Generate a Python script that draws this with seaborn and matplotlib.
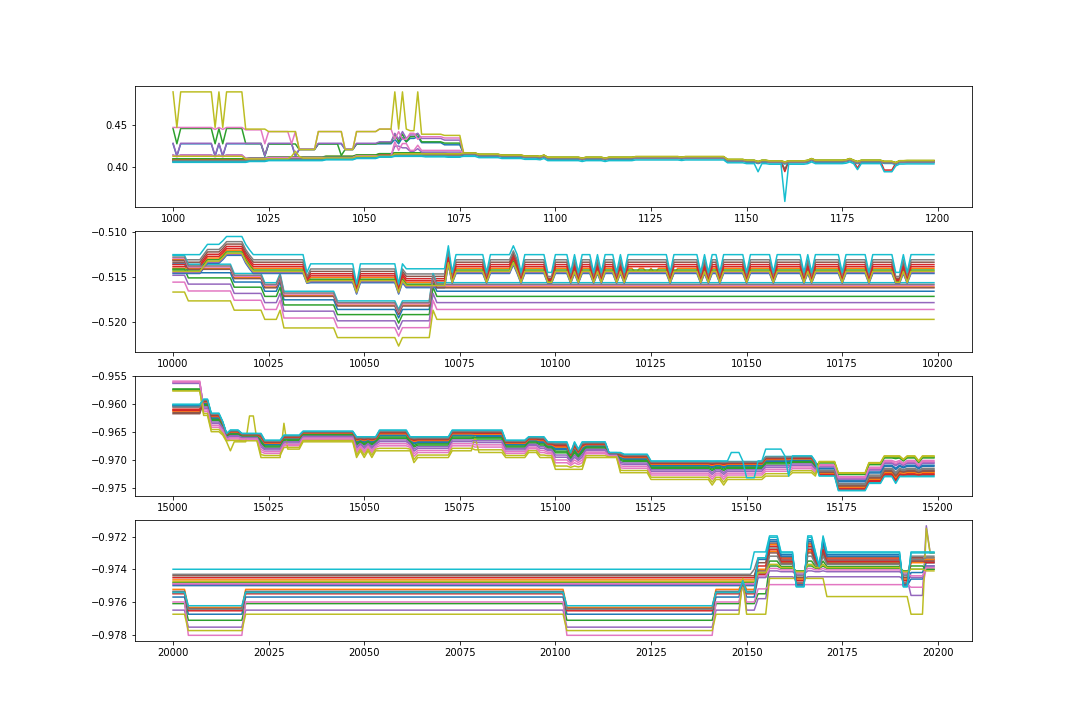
import numpy as np
import pandas as pd
import matplotlib
matplotlib.use('Agg')
import matplotlib.pyplot as plt
from matplotlib.ticker import MultipleLocator
import seaborn as sns

# 4 windows of 200 steps each, 20 series per window (tab10 colours used twice)
N_STEPS = 200
X_START = [1000, 10000, 15000, 20000]
Y_TICK_STEP = [0.05, 0.005, 0.005, 0.002]

# ---------------- window 1 (1000-1199) ----------------
# lines with their own early path: line id -> (start step, value) knots
P1_SPECIAL = {
    8: [(1000, 0.4884), (1001, 0.4468), (1002, 0.4884), (1011, 0.4468), (1012, 0.4884), (1013, 0.4468),
        (1014, 0.4884), (1019, 0.4449), (1025, 0.4420), (1033, 0.4210), (1038, 0.4420), (1045, 0.4210),
        (1048, 0.4420), (1054, 0.4449), (1058, 0.4884), (1059, 0.4449), (1060, 0.4884), (1061, 0.4449),
        (1062, 0.4430), (1064, 0.4884), (1065, 0.4389), (1071, 0.4375)],
    6: [(1000, 0.4468), (1011, 0.4445), (1012, 0.4468), (1013, 0.4445), (1014, 0.4468), (1019, 0.4440),
        (1024, 0.4277), (1025, 0.4420), (1031, 0.4277), (1032, 0.4420), (1033, 0.4210), (1038, 0.4420),
        (1045, 0.4210), (1048, 0.4420), (1054, 0.4449), (1058, 0.4330), (1059, 0.4420), (1060, 0.4330),
        (1062, 0.4400), (1064, 0.4330), (1065, 0.4360), (1071, 0.4345)],
    2: [(1000, 0.4456), (1001, 0.4277), (1002, 0.4456), (1011, 0.4277), (1012, 0.4456), (1013, 0.4277),
        (1014, 0.4456), (1019, 0.4280), (1024, 0.4140), (1025, 0.4275), (1033, 0.4210), (1038, 0.4275),
        (1044, 0.4140), (1045, 0.4210), (1048, 0.4275), (1054, 0.4290), (1058, 0.4390), (1059, 0.4300),
        (1060, 0.4390), (1061, 0.4300), (1062, 0.4360), (1064, 0.4390), (1065, 0.4300), (1071, 0.4285)],
    0: [(1000, 0.4277), (1001, 0.4131), (1002, 0.4277), (1011, 0.4131), (1012, 0.4277), (1013, 0.4131),
        (1014, 0.4277), (1024, 0.4131), (1025, 0.4277), (1032, 0.4131), (1033, 0.4210), (1038, 0.4277),
        (1045, 0.4210), (1048, 0.4277), (1058, 0.4330), (1059, 0.4277), (1060, 0.4350), (1061, 0.4300),
        (1062, 0.4340), (1064, 0.4360), (1065, 0.4290), (1071, 0.4265)],
    4: [(1000, 0.4283), (1001, 0.4140), (1002, 0.4283), (1011, 0.4140), (1012, 0.4283), (1013, 0.4140),
        (1014, 0.4283), (1024, 0.4140), (1025, 0.4283), (1032, 0.4140), (1033, 0.4215), (1038, 0.4283),
        (1045, 0.4215), (1048, 0.4283), (1054, 0.4300), (1058, 0.4400), (1059, 0.4330), (1060, 0.4420),
        (1061, 0.4340), (1062, 0.4380), (1064, 0.4400), (1065, 0.4340), (1071, 0.4320)],
    16: [(1000, 0.4143), (1001, 0.4125), (1002, 0.4143), (1011, 0.4125), (1012, 0.4143), (1013, 0.4125),
         (1014, 0.4143), (1019, 0.4105), (1025, 0.4115), (1048, 0.4135), (1058, 0.4300), (1059, 0.4200),
         (1060, 0.4280), (1062, 0.4200), (1064, 0.4260), (1065, 0.4200)],
    14: [(1000, 0.4147), (1001, 0.4130), (1002, 0.4147), (1011, 0.4130), (1012, 0.4147), (1013, 0.4130),
         (1014, 0.4147), (1019, 0.4108), (1025, 0.4117), (1048, 0.4137), (1058, 0.4250), (1060, 0.4230),
         (1062, 0.4190), (1064, 0.4220), (1065, 0.4180)],
    18: [(1000, 0.4131), (1019, 0.4100), (1031, 0.4130), (1032, 0.4190), (1033, 0.4130), (1034, 0.4110),
         (1048, 0.4130), (1058, 0.4160)],
}
# the low bundle before step 1076, and each bundle line's distance from it
P1_BUNDLE = [(1000, 0.4090), (1020, 0.4100), (1025, 0.4110), (1040, 0.4120), (1048, 0.4135),
             (1054, 0.4150), (1058, 0.4160), (1066, 0.4155), (1072, 0.4150)]
P1_BUNDLE_OFF = {1: 0.0010, 3: 0.0, 5: 0.0005, 7: -0.0005, 9: -0.0030, 10: -0.0020, 11: 0.0005,
                 12: 0.0012, 13: -0.0008, 15: -0.0015, 17: -0.0010, 19: -0.0025}
# every line after step 1076
P1_LATE = [(1076, 0.4160), (1080, 0.4145), (1086, 0.4135), (1092, 0.4125), (1096, 0.4120), (1097, 0.4135),
           (1098, 0.4110), (1107, 0.4100), (1108, 0.4110), (1113, 0.4100), (1114, 0.4110), (1121, 0.4118),
           (1133, 0.4112), (1134, 0.4118), (1145, 0.4085), (1150, 0.4075), (1153, 0.4060), (1154, 0.4075),
           (1156, 0.4068), (1160, 0.4055), (1161, 0.4068), (1166, 0.4075), (1167, 0.4095), (1168, 0.4075),
           (1176, 0.4080), (1177, 0.4095), (1178, 0.4075), (1179, 0.4060), (1180, 0.4075), (1186, 0.4062),
           (1189, 0.4048), (1190, 0.4070), (1192, 0.4072)]
P1_LATE_OFF = [-0.0006, 0.0006, 0.0008, 0.0002, 0.0, 0.0003, -0.0002, -0.0003, 0.0010, -0.0015,
               -0.0008, 0.0004, 0.0006, 0.0, -0.0001, 0.0001, -0.0004, -0.0005, 0.0009, -0.0030]
P1_POINTS = {19: {1153: 0.3950, 1160: 0.3603, 1179: 0.3975, 1186: 0.3950, 1187: 0.3950, 1188: 0.3950},
             3: {1160: 0.3952, 1179: 0.3990, 1186: 0.3970, 1187: 0.3970, 1188: 0.3970},
             5: {1160: 0.3980}}

# ---------------- window 2 (10000-10199) ----------------
P2_L_IDS = [8, 6, 4, 2, 0, 15, 11, 16, 17, 9]
P2_L_OFF = [0.0, 0.00110, 0.00186, 0.00255, 0.00312, 0.00350, 0.00360, 0.00376, 0.00388, 0.00407]
P2_L_TRACK = [(10000, -0.51668), (10004, -0.51766), (10016, -0.51869), (10024, -0.51971), (10028, -0.51869),
              (10029, -0.52066), (10043, -0.52173), (10059, -0.52267), (10060, -0.52173), (10068, -0.51869),
              (10069, -0.51971)]
P2_U_IDS = [19, 7, 5, 3, 13, 1, 12, 18, 14, 10]
P2_U_OFF = [0.0, -0.00057, -0.00084, -0.00110, -0.00133, -0.00152, -0.00171, -0.00186, -0.00198, -0.00209]
P2_U_LO = [-0.51450, -0.51495, -0.51515, -0.51530, -0.51540, -0.51550, -0.51555, -0.51560, -0.51565, -0.51570]
P2_U_LO2 = [-0.51580, -0.51600, -0.51620, -0.51630, -0.51640, -0.51650, -0.51660, -0.51670, -0.51680, -0.51690]
P2_U_TRACK = [(10000, -0.51253), (10008, -0.51195), (10009, -0.51139), (10013, -0.51100), (10014, -0.51052),
              (10019, -0.51139), (10020, -0.51200), (10021, -0.51253), (10035, 'lo'), (10036, -0.51355),
              (10048, 'lo2'), (10049, -0.51355), (10059, 'lo2'), (10060, -0.51355), (10061, -0.51410),
              (10072, -0.51155), (10073, 'lo'), (10074, -0.51253), (10082, 'lo'), (10083, -0.51253),
              (10089, -0.51155), (10090, -0.51253), (10091, 'lo'), (10092, -0.51253), (10098, 'lo'),
              (10100, -0.51253), (10104, 'lo'), (10105, -0.51253), (10106, 'lo'), (10107, -0.51253),
              (10110, 'lo'), (10111, -0.51253), (10112, 'lo'), (10113, -0.51253), (10116, 'lo'),
              (10117, -0.51253), (10118, 'lo'), (10119, -0.51253), (10130, 'lo'), (10131, -0.51253),
              (10138, 'lo'), (10139, -0.51253), (10140, 'lo'), (10141, -0.51253), (10143, 'lo'),
              (10144, -0.51253), (10150, 'lo'), (10151, -0.51253), (10157, 'lo'), (10158, -0.51253),
              (10165, 'lo'), (10166, -0.51253), (10167, 'lo'), (10168, -0.51253), (10175, 'lo'),
              (10176, -0.51253), (10182, 'lo'), (10183, -0.51253), (10189, 'lo'), (10191, -0.51253),
              (10192, 'lo'), (10193, -0.51253)]
P2_POINTS = {1: {10121: -0.5146, 10124: -0.5146, 10126: -0.5146, 10131: -0.5146}}

# ---------------- window 3 (15000-15199) ----------------
P3_TOP = [(15000, -0.9559), (15008, -0.9591), (15010, -0.9616), (15013, -0.9631), (15014, -0.9652),
          (15015, -0.9646), (15018, -0.9652), (15024, -0.9664), (15029, -0.9655), (15034, -0.9648),
          (15048, -0.9658), (15054, -0.9646), (15062, -0.9658), (15073, -0.9646), (15087, -0.9664),
          (15093, -0.9658), (15098, -0.9667), (15104, -0.9686), (15105, -0.9667), (15106, -0.9680),
          (15107, -0.9667), (15114, -0.9686), (15118, -0.9689), (15125, -0.9701), (15155, -0.9692),
          (15168, -0.9702), (15174, -0.9722), (15182, -0.9704), (15186, -0.9692), (15191, -0.9698),
          (15192, -0.9692), (15195, -0.9701), (15196, -0.9692)]
P3_BOT = [(15000, -0.9617), (15008, -0.9620), (15010, -0.9649), (15013, -0.9655), (15014, -0.9667),
          (15023, -0.9695), (15029, -0.9680), (15034, -0.9667), (15048, -0.9695), (15049, -0.9683),
          (15050, -0.9695), (15051, -0.9683), (15052, -0.9695), (15053, -0.9683), (15063, -0.9704),
          (15064, -0.9695), (15073, -0.9683), (15079, -0.9686), (15087, -0.9695), (15093, -0.9686),
          (15096, -0.9695), (15100, -0.9716), (15108, -0.9695), (15117, -0.9722), (15125, -0.9734),
          (15141, -0.9744), (15142, -0.9734), (15144, -0.9744), (15145, -0.9734), (15155, -0.9728),
          (15162, -0.9722), (15168, -0.9728), (15174, -0.9754), (15182, -0.9741), (15186, -0.9729),
          (15189, -0.9741), (15190, -0.9729)]
# where each line sits between the upper (0) and lower (1) edge of the bundle
P3_FRAC = {
    'A': [0.74, 0.88, 0.24, 0.86, 0.05, 0.96, 0.00, 0.78, 0.29, 0.71,
          0.76, 0.92, 0.26, 0.90, 0.07, 1.00, 0.03, 0.80, 0.30, 0.72],
    'B': [0.28, 0.20, 0.40, 0.16, 0.56, 0.12, 0.76, 0.08, 1.00, 0.03,
          0.24, 0.18, 0.34, 0.14, 0.48, 0.10, 0.66, 0.06, 0.88, 0.00],
    'C': [0.45, 0.78, 0.06, 0.86, 0.32, 0.70, 0.22, 0.60, 0.00, 0.95,
          0.50, 0.80, 0.10, 0.90, 0.36, 0.74, 0.28, 0.65, 0.03, 1.00],
}
P3_REGIME = [(15000, 'A'), (15008, 'B'), (15169, 'C')]
P3_POINTS = {8: {15015: -0.9683, 15020: -0.9621, 15021: -0.9621, 15029: -0.9634, 15079: -0.9658},
             19: {15146: -0.9686, 15147: -0.9686, 15148: -0.9686, 15150: -0.9731, 15151: -0.9731,
                  15152: -0.9731, 15155: -0.9680, 15156: -0.9680, 15157: -0.9680, 15158: -0.9680,
                  15159: -0.9680, 15161: -0.9728}}

# ---------------- window 4 (20000-20199) ----------------
P4_LEVELS = {
    'a': [-0.97570, -0.97465, -0.97610, -0.97452, -0.97650, -0.97440, -0.97600, -0.97431, -0.97675, -0.97400,
          -0.97500, -0.97523, -0.97482, -0.97550, -0.97493, -0.97535, -0.97488, -0.97545, -0.97475, -0.97540],
    'b': [-0.97675, -0.97465, -0.97712, -0.97452, -0.97754, -0.97440, -0.97804, -0.97431, -0.97775, -0.97400,
          -0.97500, -0.97633, -0.97482, -0.97654, -0.97493, -0.97640, -0.97488, -0.97644, -0.97475, -0.97623],
    's': [-0.97480, -0.97465, -0.97485, -0.97452, -0.97470, -0.97440, -0.97490, -0.97431, -0.97456, -0.97400,
          -0.97500, -0.97470, -0.97482, -0.97475, -0.97493, -0.97480, -0.97488, -0.97478, -0.97475, -0.97470],
    'r0': [-0.97570, -0.97465, -0.97610, -0.97452, -0.97650, -0.97440, -0.97600, -0.97400, -0.97675, -0.97294,
           -0.97500, -0.97523, -0.97482, -0.97550, -0.97493, -0.97535, -0.97488, -0.97545, -0.97475, -0.97540],
    'r': [-0.97450, -0.97400, -0.97550, -0.97380, -0.97580, -0.97360, -0.97520, -0.97330, -0.97675, -0.97294,
          -0.97340, -0.97420, -0.97430, -0.97430, -0.97450, -0.97410, -0.97440, -0.97420, -0.97420, -0.97330],
    'p': [-0.97220, -0.97250, -0.97380, -0.97260, -0.97446, -0.97240, -0.97494, -0.97270, -0.97456, -0.97196,
          -0.97230, -0.97290, -0.97350, -0.97280, -0.97410, -0.97300, -0.97395, -0.97320, -0.97370, -0.97205],
    'u': [-0.97311, -0.97331, -0.97394, -0.97338, -0.97446, -0.97325, -0.97494, -0.97345, -0.97456, -0.97294,
          -0.97320, -0.97358, -0.97383, -0.97352, -0.97415, -0.97363, -0.97404, -0.97370, -0.97390, -0.97300],
    'd': [-0.97500, -0.97485, -0.97410, -0.97500, -0.97460, -0.97490, -0.97494, -0.97480, -0.97456, -0.97508,
          -0.97495, -0.97460, -0.97420, -0.97470, -0.97430, -0.97450, -0.97420, -0.97440, -0.97415, -0.97505],
    'm': [-0.97390, -0.97400, -0.97394, -0.97395, -0.97446, -0.97385, -0.97494, -0.97390, -0.97456, -0.97383,
          -0.97388, -0.97400, -0.97390, -0.97398, -0.97415, -0.97395, -0.97404, -0.97392, -0.97390, -0.97385],
    'u2': [-0.97311, -0.97331, -0.97394, -0.97338, -0.97446, -0.97325, -0.97494, -0.97345, -0.97567, -0.97294,
           -0.97320, -0.97358, -0.97383, -0.97352, -0.97415, -0.97363, -0.97404, -0.97370, -0.97390, -0.97300],
    'd2': [-0.97500, -0.97485, -0.97410, -0.97500, -0.97460, -0.97490, -0.97494, -0.97480, -0.97567, -0.97508,
           -0.97495, -0.97460, -0.97420, -0.97470, -0.97430, -0.97450, -0.97420, -0.97440, -0.97415, -0.97505],
    'e': [-0.97460, -0.97340, -0.97400, -0.97330, -0.97560, -0.97330, -0.97510, -0.97320, -0.97675, -0.97294,
          -0.97420, -0.97360, -0.97380, -0.97350, -0.97450, -0.97350, -0.97440, -0.97340, -0.97400, -0.97300],
    'sp': [-0.97380, -0.97330, -0.97400, -0.97350, -0.97134, -0.97340, -0.97390, -0.97320, -0.97150, -0.97294,
           -0.97360, -0.97340, -0.97400, -0.97360, -0.97380, -0.97350, -0.97390, -0.97330, -0.97410, -0.97300],
    'end': [-0.97380, -0.97330, -0.97400, -0.97350, -0.97300, -0.97340, -0.97390, -0.97320, -0.97300, -0.97294,
            -0.97360, -0.97340, -0.97400, -0.97360, -0.97380, -0.97350, -0.97390, -0.97330, -0.97410, -0.97300],
}
P4_TIMELINE = [(20000, 'a'), (20004, 'b'), (20019, 'a'), (20103, 'b'), (20142, 'a'), (20149, 's'),
               (20150, 'a'), (20152, 'r0'), (20153, 'r'), (20156, 'p'), (20159, 'u'), (20163, 'd'),
               (20166, 'p'), (20168, 'u'), (20169, 'm'), (20170, 'p'), (20171, 'u2'), (20191, 'd2'),
               (20193, 'e'), (20197, 'sp'), (20198, 'end')]


def steps(knots, x0):
    # each knot holds its value until the next knot
    y = np.zeros(N_STEPS)
    for k, (s, v) in enumerate(knots):
        e = knots[k + 1][0] if k + 1 < len(knots) else x0 + N_STEPS
        y[s - x0:e - x0] = v
    return y


def put_points(y, points, x0):
    for x, v in points.items():
        y[x - x0] = v


def window1():
    x0 = X_START[0]
    out = {}
    for i in range(20):
        if i in P1_SPECIAL:
            early = P1_SPECIAL[i]
        else:
            early = [(x, v + P1_BUNDLE_OFF[i]) for x, v in P1_BUNDLE]
        late = [(x, v + P1_LATE_OFF[i]) for x, v in P1_LATE]
        y = steps(early + late, x0)
        put_points(y, P1_POINTS.get(i, {}), x0)
        out[i] = y
    return out


def window2():
    x0 = X_START[1]
    out = {}
    for k, i in enumerate(P2_L_IDS):
        out[i] = steps([(x, v + P2_L_OFF[k]) for x, v in P2_L_TRACK], x0)
    for k, i in enumerate(P2_U_IDS):
        knots = []
        for x, v in P2_U_TRACK:
            if v == 'lo':
                knots.append((x, P2_U_LO[k]))
            elif v == 'lo2':
                knots.append((x, P2_U_LO2[k]))
            else:
                knots.append((x, v + P2_U_OFF[k]))
        y = steps(knots, x0)
        put_points(y, P2_POINTS.get(i, {}), x0)
        out[i] = y
    return out


def window3():
    x0 = X_START[2]
    top = steps(P3_TOP, x0)
    bot = steps(P3_BOT, x0)
    out = {}
    for i in range(20):
        frac = steps([(x, P3_FRAC[r][i]) for x, r in P3_REGIME], x0)
        y = top + frac * (bot - top)
        put_points(y, P3_POINTS.get(i, {}), x0)
        out[i] = y
    return out


def window4():
    x0 = X_START[3]
    return {i: steps([(x, P4_LEVELS[s][i]) for x, s in P4_TIMELINE], x0) for i in range(20)}


def to_long(lines, x0):
    rows = []
    for i, y in lines.items():
        rows.append(pd.DataFrame({'step': x0 + np.arange(N_STEPS), 'value': y, 'line': f'line {i:02d}'}))
    return pd.concat(rows, ignore_index=True)


frames = [to_long(window1(), X_START[0]), to_long(window2(), X_START[1]),
          to_long(window3(), X_START[2]), to_long(window4(), X_START[3])]

tab10 = sns.color_palette('tab10', 10)
palette = {f'line {i:02d}': tab10[i % 10] for i in range(20)}

fig, axes = plt.subplots(4, 1, figsize=(15, 10), dpi=72)
for ax, df, tick in zip(axes, frames, Y_TICK_STEP):
    sns.lineplot(data=df, x='step', y='value', hue='line', hue_order=sorted(palette),
                 palette=palette, legend=False, estimator=None, linewidth=1.5, ax=ax)
    ax.yaxis.set_major_locator(MultipleLocator(tick))
    ax.set_xlabel('')
    ax.set_ylabel('')

fig.savefig('out.png', dpi=72)
